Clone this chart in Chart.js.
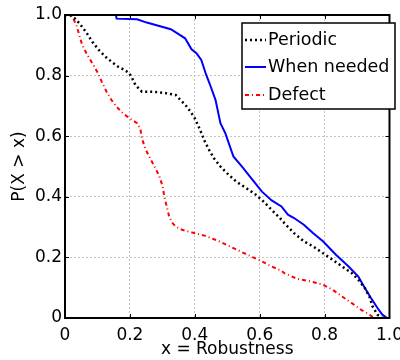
<!DOCTYPE html>
<html>
<head>
<meta charset="utf-8">
<script src="https://cdn.jsdelivr.net/npm/chart.js@4.4.1/dist/chart.umd.min.js"></script>
<style>
html,body{margin:0;padding:0;width:400px;height:360px;overflow:hidden;background:#fff;}
#wrap{width:410px;height:360px;}
</style>
</head>
<body>
<div id="wrap"><canvas id="c" width="410" height="360"></canvas></div>
<script>
const xTicks = [0, 0.2, 0.4, 0.6, 0.8, 1];
const yTicks = [0, 0.2, 0.4, 0.6, 0.8, 1];
const seriesNames = ['Periodic', 'When needed', 'Defect'];

const periodicX = [0,0.015,0.03,0.044,0.064,0.084,0.104,0.124,0.143,0.163,0.183,0.198,0.207,0.217,0.237,0.272,0.311,0.341,0.361,0.375,0.390,0.400,0.415,0.430,0.444,0.459,0.479,0.499,0.528,0.558,0.588,0.612,0.637,0.662,0.676,0.706,0.736,0.765,0.795,0.825,0.854,0.884,0.904,0.924,0.938,0.948,0.963,0.978];
const periodicY = [1,1.0,0.989,0.973,0.945,0.912,0.885,0.863,0.846,0.830,0.819,0.808,0.791,0.769,0.747,0.747,0.742,0.736,0.714,0.698,0.676,0.659,0.624,0.585,0.555,0.527,0.500,0.478,0.450,0.429,0.407,0.384,0.357,0.330,0.313,0.280,0.253,0.236,0.214,0.192,0.170,0.148,0.126,0.099,0.071,0.038,0.011,0];

const neededX = [0.157,0.159,0.222,0.252,0.326,0.350,0.370,0.390,0.405,0.420,0.435,0.449,0.464,0.479,0.494,0.519,0.548,0.578,0.607,0.637,0.667,0.687,0.706,0.736,0.765,0.795,0.835,0.874,0.904,0.924,0.943,0.963,0.978,0.993,1.0];
const neededY = [1.0,0.988,0.986,0.975,0.953,0.937,0.923,0.887,0.874,0.852,0.803,0.764,0.719,0.643,0.610,0.533,0.496,0.456,0.417,0.388,0.368,0.341,0.330,0.308,0.280,0.253,0.209,0.170,0.137,0.099,0.066,0.033,0.011,0,0];

const defectX = [0,0.02,0.035,0.044,0.053,0.069,0.084,0.099,0.113,0.128,0.143,0.158,0.178,0.202,0.222,0.232,0.237,0.247,0.262,0.276,0.291,0.301,0.306,0.316,0.321,0.330,0.341,0.361,0.400,0.430,0.469,0.509,0.548,0.578,0.607,0.637,0.667,0.676,0.716,0.756,0.795,0.825,0.854,0.884,0.913,0.938,0.953];
const defectY = [1,1.0,0.967,0.934,0.901,0.868,0.841,0.813,0.780,0.747,0.720,0.698,0.676,0.657,0.643,0.626,0.593,0.560,0.527,0.500,0.467,0.434,0.401,0.357,0.335,0.315,0.302,0.291,0.280,0.272,0.256,0.236,0.216,0.201,0.187,0.170,0.156,0.148,0.129,0.121,0.110,0.093,0.071,0.049,0.027,0.011,0];

const toPts = (xs, ys) => xs.map((x, i) => ({x: x, y: ys[i]}));
const FONT = '"DejaVu Sans", Verdana, sans-serif';

const styles = [
  {color: '#000000', width: 2.5, dash: [2, 3]},
  {color: '#0000ff', width: 2, dash: []},
  {color: '#ff0000', width: 2, dash: [4, 3, 1, 3]}
];

const frameAndLegend = {
  id: 'frameAndLegend',
  afterDatasetsDraw(chart) {
    const ctx = chart.ctx, a = chart.chartArea;
    const xs = chart.scales.x, ys = chart.scales.y;
    ctx.save();
    ctx.strokeStyle = '#000';
    ctx.lineWidth = 1;
    ctx.setLineDash([]);
    ctx.beginPath();
    xTicks.forEach(v => {
      const p = Math.round(xs.getPixelForValue(v)) + 0.5;
      ctx.moveTo(p, a.bottom); ctx.lineTo(p, a.bottom - 4);
      ctx.moveTo(p, a.top); ctx.lineTo(p, a.top + 4);
    });
    yTicks.forEach(v => {
      const p = Math.round(ys.getPixelForValue(v)) + 0.5;
      ctx.moveTo(a.left, p); ctx.lineTo(a.left + 4, p);
      ctx.moveTo(a.right, p); ctx.lineTo(a.right - 4, p);
    });
    ctx.stroke();
    ctx.lineWidth = 2;
    ctx.strokeRect(a.left, a.top, a.right - a.left, a.bottom - a.top);

    // legend
    const bx = 242, by = 23, bw = 153, bh = 86;
    ctx.fillStyle = '#fff';
    ctx.fillRect(bx, by, bw, bh);
    ctx.lineWidth = 1.5;
    ctx.strokeStyle = '#000';
    ctx.strokeRect(bx, by, bw, bh);
    const rows = [40, 67, 95];
    seriesNames.forEach((name, i) => {
      const s = styles[i];
      ctx.beginPath();
      ctx.strokeStyle = s.color;
      ctx.lineWidth = s.width;
      ctx.setLineDash(s.dash);
      ctx.moveTo(245, rows[i]); ctx.lineTo(266, rows[i]);
      ctx.stroke();
      ctx.setLineDash([]);
      ctx.fillStyle = '#000';
      ctx.font = '17.5px ' + FONT;
      ctx.textBaseline = 'middle';
      ctx.textAlign = 'left';
      ctx.fillText(name, 268, rows[i]);
    });
    ctx.restore();
  }
};

new Chart(document.getElementById('c'), {
  type: 'line',
  data: {
    datasets: [
      {label: seriesNames[0], data: toPts(periodicX, periodicY)},
      {label: seriesNames[1], data: toPts(neededX, neededY)},
      {label: seriesNames[2], data: toPts(defectX, defectY)}
    ].map((d, i) => Object.assign(d, {
      borderColor: styles[i].color,
      borderWidth: styles[i].width,
      borderDash: styles[i].dash,
      pointRadius: 0,
      tension: 0,
      fill: false
    }))
  },
  options: {
    responsive: false,
    animation: false,
    devicePixelRatio: 1,
    layout: {padding: {left: 0, right: 7.5, top: 15, bottom: 0}},
    plugins: {legend: {display: false}, tooltip: {enabled: false}},
    scales: {
      x: {
        type: 'linear', min: 0, max: 1,
        afterBuildTicks: s => { s.ticks = xTicks.map(v => ({value: v})); },
        afterFit: s => { s.height = 42; },
        ticks: {color: '#000', font: {family: FONT, size: 17}, padding: 7, maxRotation: 0, autoSkip: false},
        grid: {color: '#c4c4c4', lineWidth: 1, drawTicks: false},
        border: {display: true, color: '#000', width: 2, dash: [2, 2]},
        title: {display: true, text: 'x = Robustness', color: '#000', font: {family: FONT, size: 17}, padding: {top: 0, bottom: 0}}
      },
      y: {
        type: 'linear', min: 0, max: 1,
        afterBuildTicks: s => { s.ticks = yTicks.map(v => ({value: v})); },
        afterFit: s => { s.width = 65; },
        ticks: {color: '#000', font: {family: FONT, size: 17}, padding: 3},
        grid: {color: '#c4c4c4', lineWidth: 1, drawTicks: false},
        border: {display: true, color: '#000', width: 2, dash: [2, 2]},
        title: {display: true, text: 'P(X > x)', color: '#000', font: {family: FONT, size: 17}, padding: {top: 9, bottom: 0}}
      }
    }
  },
  plugins: [frameAndLegend]
});
</script>
</body>
</html>
